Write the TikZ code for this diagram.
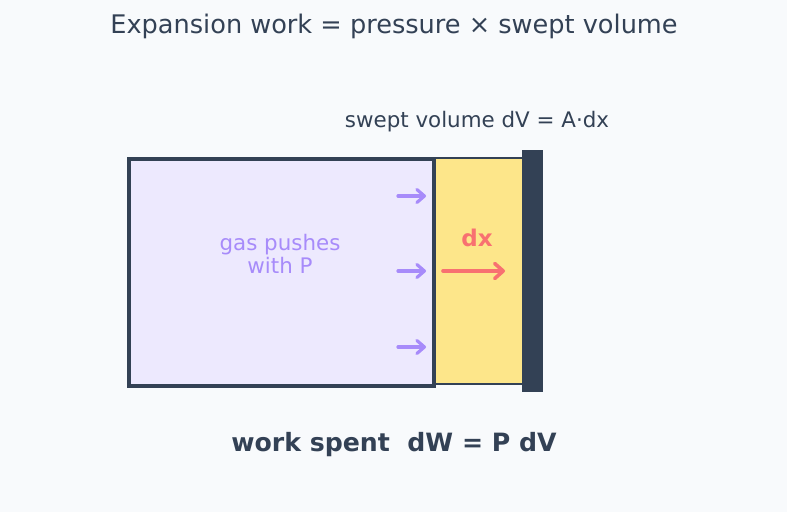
\documentclass[tikz,border=0pt]{standalone}
\usepackage{fontspec}
\setmainfont{DejaVu Sans}
\usetikzlibrary{arrows.meta}
\definecolor{bgc}{HTML}{F8FAFC}
\definecolor{ink}{HTML}{334155}
\definecolor{gasfill}{HTML}{EDE9FE}
\definecolor{gasink}{HTML}{A78BFA}
\definecolor{sweptfill}{HTML}{FDE68A}
\definecolor{dxred}{HTML}{F87171}
\tikzset{
  pusharrow/.style={draw=gasink, line width=3.2pt, line cap=round,
    -{Straight Barb[length=7.5pt,width=13pt,round]}},
  dxarrow/.style={draw=dxred, line width=3.6pt, line cap=round,
    -{Straight Barb[length=8.5pt,width=15pt,round]}},
  txt/.style={text=ink, inner sep=0pt, align=center}
}
\begin{document}
\begin{tikzpicture}[x=1pt,y=-1pt]
  % canvas
  \fill[bgc] (0,0) rectangle (787,512);
  \useasboundingbox (0,0) rectangle (787,512);

  % title
  \node[txt, font=\fontsize{25.6}{30}\selectfont] (title) at (394,26) {Expansion work = pressure × swept volume};

  % swept volume slab and gas chamber
  \draw[ink, line width=2.5pt, fill=sweptfill] (432,158) rectangle (523,384);
  \node[draw=ink, line width=3.5pt, fill=gasfill, minimum width=305pt, minimum height=227pt, inner sep=0pt, anchor=north west] (gas) at (127,157) {};
  \node[text=gasink, align=center, font=\fontsize{21.4}{23}\selectfont, inner sep=0pt] (gaslbl) at (280,254) {gas pushes\\with P};

  % piston
  \node[fill=ink, minimum width=21pt, minimum height=242pt, inner sep=0pt, anchor=north west] (piston) at (522,150) {};

  % pressure arrows against the piston face
  \coordinate (p1s) at (398,196); \coordinate (p1e) at (426,196);
  \coordinate (p2s) at (398,271); \coordinate (p2e) at (426,271);
  \coordinate (p3s) at (398,347); \coordinate (p3e) at (426,347);
  \draw[pusharrow] (p1s) -- (p1e);
  \draw[pusharrow] (p2s) -- (p2e);
  \draw[pusharrow] (p3s) -- (p3e);

  % displacement
  \coordinate (dxs) at (443,271); \coordinate (dxe) at (505,271);
  \draw[dxarrow] (dxs) -- (dxe);
  \node[text=dxred, font=\bfseries\fontsize{23}{26}\selectfont, inner sep=0pt] (dxlbl) at (477,238) {dx};

  \node[txt, font=\fontsize{21.4}{25}\selectfont] (swept) at (477,122) {swept volume dV = A·dx};

  % result
  \node[txt, font=\bfseries\fontsize{25.2}{29}\selectfont] (work) at (394,445) {work spent\ \ dW = P dV};
\end{tikzpicture}
\end{document}
